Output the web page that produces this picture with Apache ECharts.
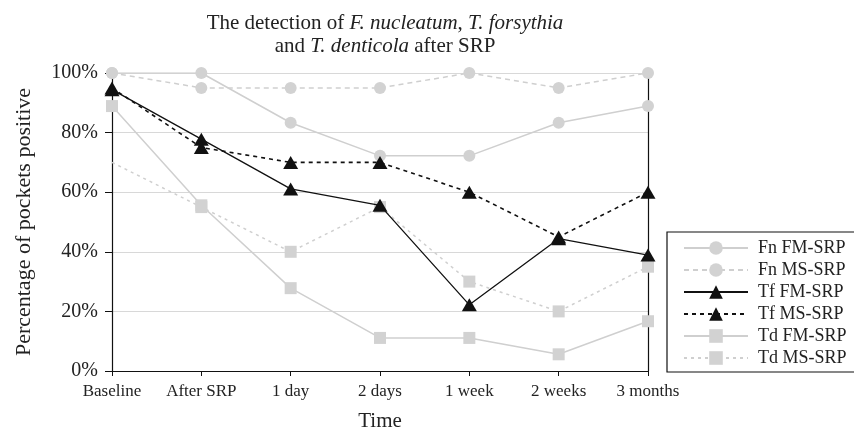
<!DOCTYPE html>
<html><head><meta charset="utf-8">
<script src="https://cdn.jsdelivr.net/npm/echarts@6/dist/echarts.min.js"></script>
<style>html,body{margin:0;padding:0;background:#fff}#c{width:854px;height:428px}</style>
</head><body><div id="c"></div>
<script>
const categories = ['Baseline','After SRP','1 day','2 days','1 week','2 weeks','3 months'];
const yTicks = [0,20,40,60,80,100];
const fnFM = [100,100,83.3,72.2,72.2,83.3,88.9];
const fnMS = [100,95,95,95,100,95,100];
const tfFM = [94.4,77.8,61.1,55.6,22.2,44.4,38.9];
const tfMS = [95,75,70,70,60,45,60];
const tdFM = [88.9,55.6,27.8,11.1,11.1,5.6,16.7];
const tdMS = [70,55,40,55,30,20,35];

const FONT = 'Liberation Serif';
const TXT = '#222';
const GRAY = '#cfcfcf';
const GRAYM = '#d2d2d2';

function mk(name, data, opts) {
  return Object.assign({
    name, type: 'line', data, animation: false,
    symbolKeepAspect: true
  }, opts);
}

const series = [
  mk('Fn FM-SRP', fnFM, {symbol:'circle', symbolSize:12, itemStyle:{color:GRAYM}, lineStyle:{color:GRAY, width:1.5}, z:2}),
  mk('Fn MS-SRP', fnMS, {symbol:'circle', symbolSize:12, itemStyle:{color:GRAYM}, lineStyle:{color:GRAY, width:1.5, type:[5,4]}, z:2}),
  mk('Tf FM-SRP', tfFM, {symbol:'triangle', symbolSize:[15,13], itemStyle:{color:'#111'}, lineStyle:{color:'#111', width:1.3}, z:4}),
  mk('Tf MS-SRP', tfMS, {symbol:'triangle', symbolSize:[15,13], itemStyle:{color:'#111'}, lineStyle:{color:'#111', width:1.6, type:[4,4]}, z:4}),
  mk('Td FM-SRP', tdFM, {symbol:'rect', symbolSize:12, itemStyle:{color:GRAYM}, lineStyle:{color:GRAY, width:1.5}, z:3}),
  mk('Td MS-SRP', tdMS.map((v,i)=> i===0 ? {value:v, symbol:'none'} : v), {symbol:'rect', symbolSize:12, itemStyle:{color:GRAYM}, lineStyle:{color:GRAY, width:1.5, type:[3,4]}, z:3})
];

const chart = echarts.init(document.getElementById('c'), null, {renderer:'canvas'});
chart.setOption({
  backgroundColor:'#fff',
  textStyle:{fontFamily:FONT, color:TXT},
  title:{
    text:'The detection of {i|F. nucleatum}, {i|T. forsythia}\nand {i|T. denticola} after SRP',
    left:380, top:7, textAlign:'center',
    textStyle:{fontFamily:FONT, fontSize:21, fontWeight:'normal', color:TXT, lineHeight:23,
      rich:{i:{fontFamily:FONT, fontSize:21, fontStyle:'italic', color:TXT, lineHeight:23}}}
  },
  grid:{left:112, right:206, top:73, bottom:57, containLabel:false, outerBoundsMode:'none'},
  legend:{
    orient:'vertical', left:667, top:232,
    padding:[7,10,5,16], itemGap:4, itemWidth:64, itemHeight:17,
    borderColor:'#111', borderWidth:1.2,
    textStyle:{fontFamily:FONT, fontSize:18, color:TXT, padding:[0,0,0,5], lineHeight:18},
    data: series.map(s=>s.name)
  },
  xAxis:[{
    type:'category', data:categories, boundaryGap:false,
    name:'Time', nameLocation:'middle', nameGap:40,
    nameTextStyle:{fontFamily:FONT, fontSize:21, color:TXT},
    axisLine:{lineStyle:{color:'#111', width:1.2}},
    axisTick:{show:true, length:5, interval:0, lineStyle:{color:'#111'}},
    axisLabel:{fontFamily:FONT, fontSize:17, color:TXT, margin:12, interval:0, hideOverlap:false},
    splitLine:{show:false}
  },{
    type:'category', data:categories, boundaryGap:false, position:'top',
    axisLine:{show:true, lineStyle:{color:'#111', width:1.2}},
    axisTick:{show:false}, axisLabel:{show:false}, splitLine:{show:false}
  }],
  yAxis:[{
    type:'value', min:yTicks[0], max:yTicks[yTicks.length-1], interval:20,
    name:'Percentage of pockets positive', nameLocation:'middle', nameGap:77, nameRotate:90,
    nameTextStyle:{fontFamily:FONT, fontSize:22, color:TXT},
    axisLine:{show:true, lineStyle:{color:'#111', width:1.2}},
    axisTick:{show:true, length:7, lineStyle:{color:'#111'}},
    axisLabel:{fontFamily:FONT, fontSize:20, color:TXT, margin:14, formatter:'{value}%'},
    splitLine:{show:true, lineStyle:{color:'#d8d8d8', width:1}}
  },{
    type:'value', min:yTicks[0], max:yTicks[yTicks.length-1], interval:20, position:'right',
    axisLine:{show:true, lineStyle:{color:'#111', width:1.2}},
    axisTick:{show:false}, axisLabel:{show:false}, splitLine:{show:false}
  }],
  series
});
</script></body></html>
